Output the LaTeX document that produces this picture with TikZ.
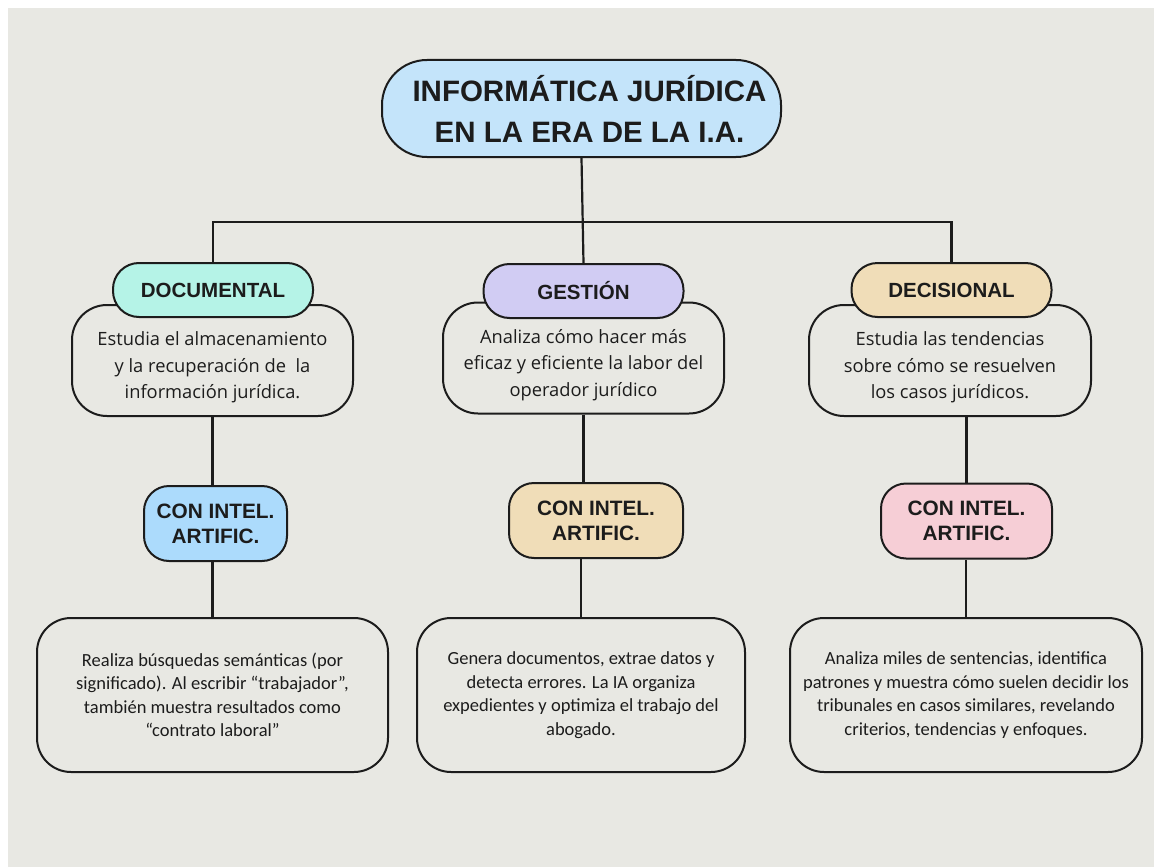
\documentclass[tikz,border=0pt]{standalone}
\usepackage{fontspec}
\setmainfont{Open Sans}
\newfontfamily\headfont{Liberation Sans}
\newfontfamily\leaffont{Carlito}
\usepackage{tikz}
\usetikzlibrary{positioning}
\definecolor{bggray}{RGB}{232,232,227}
\definecolor{titleblue}{RGB}{196,228,250}
\definecolor{docmint}{RGB}{181,243,231}
\definecolor{geslila}{RGB}{209,204,243}
\definecolor{decwheat}{RGB}{240,221,184}
\definecolor{aiblue}{RGB}{172,219,252}
\definecolor{aipink}{RGB}{246,206,214}
\definecolor{ink}{RGB}{28,28,28}
\newcommand{\toppad}{\rule{0pt}{28pt}}
\tikzset{
	titlenode/.style={rectangle, draw=ink, fill=titleblue, line width=2pt, rounded corners=45pt, minimum width=399pt, minimum height=97pt, align=center, text=ink, font=\headfont\bfseries\fontsize{29.5}{41}\selectfont},
	headnode/.style={rectangle, draw=ink, line width=2pt, rounded corners=26pt, minimum width=200pt, minimum height=54pt, text=ink, font=\headfont\bfseries\fontsize{20.5}{25}\selectfont},
	descnode/.style={rectangle, draw=ink, fill=bggray, line width=2pt, rounded corners=35pt, minimum width=281pt, minimum height=111pt, align=center, text=ink, font=\fontsize{18.3}{26.5}\selectfont},
	ainode/.style={rectangle, draw=ink, line width=2pt, rounded corners=25pt, minimum height=75pt, align=center, text=ink, font=\headfont\bfseries\fontsize{20.8}{25}\selectfont},
	leafnode/.style={rectangle, draw=ink, fill=bggray, line width=2pt, rounded corners=34pt, minimum height=154pt, align=center, text=ink, font=\leaffont\fontsize{18.5}{23.5}\selectfont},
	link/.style={draw=ink, line width=2.2pt}
}
\begin{document}
\begin{tikzpicture}[x=1pt, y=-1pt]
		\useasboundingbox (0,0) rectangle (1154,867);
		\fill[bggray] (8,8) rectangle (1154,867);

		\node[titlenode] at (581.5,108.5) (title) {\hspace*{16pt}INFORMÁTICA JURÍDICA\\\hspace*{16pt}EN LA ERA DE LA I.A.};
		\coordinate (bar) at (581.5,222);

		\node[descnode] at (212.5,360.5) (docd) {\toppad Estudia el almacenamiento\\y la recuperación de \ la\\información jurídica.};
		\node[descnode] at (583.5,358) (gesd) {\toppad Analiza cómo hacer más\\eficaz y eficiente la labor del\\operador jurídico};
		\node[descnode, minimum width=282pt] at (950,360.5) (decd) {\toppad Estudia las tendencias\\sobre cómo se resuelven\\los casos jurídicos.};

		\node[headnode, fill=docmint] at (213,290) (doc) {DOCUMENTAL};
		\node[headnode, fill=geslila] at (583.5,291) (ges) {GESTIÓN};
		\node[headnode, fill=decwheat] at (951.5,290) (dec) {DECISIONAL};

		\node[ainode, fill=aiblue, minimum width=143pt] at (215.5,523.5) (ai1) {CON INTEL.\\ARTIFIC.};
		\node[ainode, fill=decwheat, minimum width=174pt] at (596,520.5) (ai2) {CON INTEL.\\ARTIFIC.};
		\node[ainode, fill=aipink, minimum width=171pt] at (966.5,521) (ai3) {CON INTEL.\\ARTIFIC.};

		\node[leafnode, minimum width=351pt] at (212.5,695) (leaf1) {Realiza búsquedas semánticas (por\\significado). Al escribir “trabajador”,\\también muestra resultados como\\“contrato laboral”};
		\node[leafnode, minimum width=328pt] at (581,695) (leaf2) {Genera documentos, extrae datos y\\detecta errores. La IA organiza\\expedientes y optimiza el trabajo del\\abogado.};
		\node[leafnode, minimum width=352pt] at (966,695) (leaf3) {Analiza miles de sentencias, identifica\\patrones y muestra cómo suelen decidir los\\tribunales en casos similares, revelando\\criterios, tendencias y enfoques.};

		\draw[link] (title.south) -- (ges.north);
		\draw[link] (doc.north) -- (doc.north |- bar) -- (dec.north |- bar) -- (dec.north);

		\draw[link] (docd.south) -- (docd.south |- ai1.north);
		\draw[link] (gesd.south) -- (gesd.south |- ai2.north);
		\draw[link] (ai3.north) -- (ai3.north |- decd.south);

		\draw[link] (leaf1.north) -- (leaf1.north |- ai1.south);
		\draw[link] (leaf2.north) -- (leaf2.north |- ai2.south);
		\draw[link] (leaf3.north) -- (leaf3.north |- ai3.south);
\end{tikzpicture}
\end{document}
